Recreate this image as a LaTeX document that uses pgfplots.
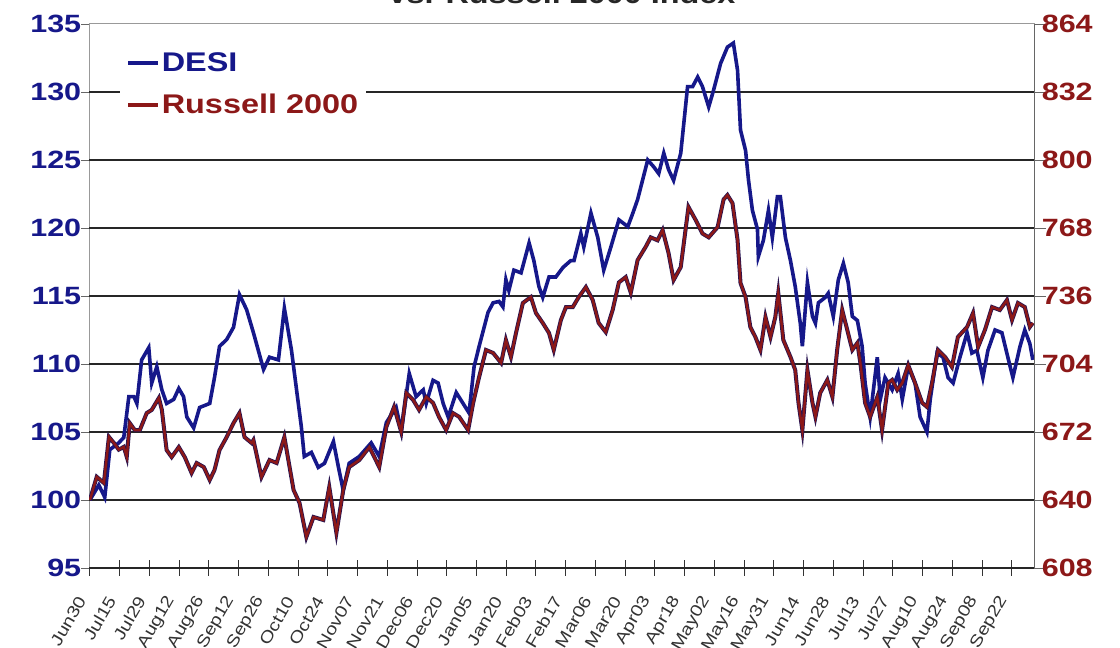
\documentclass[border=0pt]{standalone}
\usepackage{graphicx}
\usepackage{pgfplots}
\pgfplotsset{compat=1.18}
\usepackage{fontspec}
\setmainfont{Liberation Sans}
\definecolor{desi}{RGB}{22,24,138}
\definecolor{russ}{RGB}{140,24,24}
\definecolor{rusedge}{RGB}{40,20,80}

\pgfplotstableread{
d v
0 100.0
3.0 101.1
5.0 100.2
6.7 103.7
9.7 104.2
11.4 104.6
13.1 107.6
14.8 107.6
15.8 107.1
17.4 110.3
19.8 111.2
20.8 108.6
22.5 109.8
24.2 108.1
25.8 107.1
28.2 107.4
29.9 108.2
31.5 107.6
32.6 106.1
34.9 105.3
36.9 106.8
40.3 107.1
41.9 109.0
43.6 111.3
46.0 111.8
48.3 112.7
50.3 115.1
52.7 114.0
55.0 112.3
58.4 109.6
60.4 110.5
63.4 110.3
65.4 114.1
67.8 111.0
69.5 108.1
71.1 105.4
72.1 103.2
74.5 103.5
76.8 102.4
78.9 102.7
81.9 104.3
83.6 102.4
85.2 100.7
87.2 102.7
90.6 103.2
94.6 104.2
97.3 103.2
99.7 105.7
103.0 106.8
104.7 105.1
107.4 109.3
109.7 107.6
112.1 108.1
113.1 107.1
115.4 108.8
117.1 108.6
118.8 107.1
120.5 106.1
123.2 107.9
125.5 107.1
127.5 106.4
129.2 109.8
130.9 111.3
133.9 113.8
135.6 114.5
137.6 114.6
138.9 114.2
139.9 116.2
140.9 115.4
142.6 116.9
145.0 116.7
147.7 118.9
149.3 117.6
151.0 115.7
152.3 114.9
154.4 116.4
156.7 116.4
159.1 117.1
161.7 117.6
162.8 117.6
165.1 119.6
166.1 118.6
168.5 121.1
170.8 119.3
172.8 116.9
175.2 118.6
177.9 120.6
180.9 120.1
182.6 121.1
184.2 122.1
187.6 125.0
189.6 124.5
191.3 124.0
193.0 125.5
194.6 124.3
196.3 123.5
198.7 125.5
201.0 130.4
202.7 130.4
204.4 131.1
206.0 130.4
208.1 128.9
209.7 130.1
212.1 132.1
214.4 133.3
216.4 133.6
217.8 131.6
218.8 127.2
220.5 125.7
221.5 123.5
222.8 121.3
224.5 119.9
224.8 117.9
226.5 119.1
228.2 121.3
229.5 119.3
231.2 122.3
232.2 122.3
233.9 119.3
235.6 117.6
237.2 115.7
238.9 113.0
239.6 111.3
241.3 116.0
243.0 113.5
244.0 113.0
245.0 114.5
247.3 114.9
248.3 115.2
250.0 113.5
251.7 116.2
253.4 117.4
255.0 116.0
256.4 113.5
258.1 113.2
259.7 111.3
260.7 108.6
262.4 106.1
264.8 110.5
265.8 107.4
267.4 109.0
269.8 108.1
271.8 109.3
273.2 107.4
275.2 109.8
277.5 108.6
279.2 106.1
281.5 105.0
282.6 107.4
284.9 110.8
286.9 110.5
288.6 109.0
290.3 108.6
292.6 110.5
295.0 112.3
296.6 110.8
298.3 111.0
300.3 109.0
302.0 111.0
304.4 112.5
306.7 112.3
308.7 110.5
310.4 109.0
312.8 111.3
314.4 112.5
316.1 111.5
317.1 110.3
}\desitable

\pgfplotstableread{
d r
0 640.0
2.3 650.9
4.7 648.0
6.4 669.7
8.1 666.8
9.7 663.7
11.4 665.0
12.4 660.3
13.4 676.2
15.1 672.9
16.8 672.9
19.1 680.9
20.8 682.4
23.2 688.0
24.2 682.4
25.8 663.5
27.5 660.2
29.9 664.9
31.9 660.2
34.2 652.7
35.9 657.4
38.3 655.5
40.3 649.4
41.9 654.1
43.6 663.5
46.0 669.6
48.3 676.2
50.3 680.9
52.0 669.6
54.4 666.8
55.0 668.2
57.7 650.8
60.4 658.8
62.8 657.4
65.4 669.6
68.5 644.7
70.5 638.6
72.8 622.6
75.2 632.0
78.5 630.6
80.5 646.1
82.9 624.5
85.2 644.7
87.2 655.5
90.6 658.8
94.0 664.9
97.3 655.5
99.7 674.4
102.3 683.8
104.7 672.0
106.4 690.4
108.7 687.1
110.7 682.4
113.1 688.5
115.4 685.7
117.4 679.1
119.8 672.9
122.1 680.9
124.2 679.1
127.2 672.9
128.9 685.7
130.9 697.9
133.2 710.6
135.6 709.2
138.3 704.5
139.9 715.3
141.6 707.3
143.3 718.6
145.6 732.7
148.3 735.5
150.0 728.0
152.3 723.3
154.4 718.6
156.0 710.6
158.4 724.7
160.1 730.8
162.4 730.8
164.4 735.5
166.8 740.2
169.1 734.1
171.1 723.3
173.5 719.0
175.8 729.4
177.9 742.4
180.2 744.9
181.9 737.5
184.2 752.9
186.9 759.1
188.6 763.6
190.9 762.2
192.6 767.0
194.6 756.2
196.3 743.5
198.7 749.6
201.3 777.9
203.7 771.8
206.0 765.4
208.1 763.6
211.1 768.4
213.1 781.4
214.4 783.5
216.1 779.7
217.8 762.4
218.8 742.1
220.5 735.5
222.1 721.4
223.8 716.7
225.5 710.6
227.2 726.1
228.9 716.7
230.5 726.1
231.5 737.4
233.2 715.3
235.6 707.3
237.2 701.2
238.3 685.7
239.6 672.9
241.3 701.2
243.0 685.7
244.0 679.1
245.6 690.4
248.0 696.5
249.7 688.5
251.3 710.6
253.0 729.4
254.7 720.0
256.4 710.6
258.1 713.9
259.1 704.5
260.7 685.7
262.4 679.1
264.8 688.5
266.4 672.9
268.5 695.1
269.8 696.5
271.5 691.8
273.2 695.1
275.2 703.5
277.5 695.1
279.9 685.7
281.5 683.8
283.2 695.1
285.2 710.6
287.6 707.3
289.9 702.6
291.9 716.7
295.0 721.4
297.0 728.0
298.7 712.0
301.0 720.0
303.4 730.8
306.0 729.4
308.4 734.1
310.1 724.7
312.1 732.7
314.4 730.8
316.1 721.4
317.1 723.3
}\russtable

\begin{document}
\begin{tikzpicture}[x=1pt,y=1pt]
\pgfplotsset{
  common/.style={
    at={(89pt,80pt)}, anchor=south west,
    scale only axis, width=945pt, height=544pt,
    xmin=-0.3, xmax=317.5,
    /pgf/number format/assume math mode=true,
  }
}
\begin{axis}[
  common,
  ymin=95, ymax=135,
  ytick={95,100,...,135},
  yticklabel={\scalebox{1.22}[1]{\pgfmathprintnumber{\tick}}},
  xtick={0,10,...,310},
  xticklabels={Jun30,Jul15,Jul29,Aug12,Aug26,Sep12,Sep26,Oct10,Oct24,Nov07,Nov21,Dec06,Dec20,Jan05,Jan20,Feb03,Feb17,Mar06,Mar20,Apr03,Apr18,May02,May16,May31,Jun14,Jun28,Jul13,Jul27,Aug10,Aug24,Sep08,Sep22},
  xtick pos=bottom, ytick pos=left,
  xtick align=center, ytick align=outside,
  x tick style={black!80, line width=0.9pt, /pgfplots/major tick length=16pt},
  y tick style={black!60, line width=0.9pt, /pgfplots/major tick length=8pt},
  axis line style={draw=black!40, line width=1pt},
  xticklabel style={yshift=-24pt, xshift=-6pt, rotate=60, xscale=1.2, anchor=east, font=\fontsize{16.5}{16.5}\selectfont, text=black!80},
  yticklabel style={font=\bfseries\fontsize{25}{25}\selectfont, text=desi},
  extra y ticks={95,100,...,130},
  extra y tick labels={},
  extra y tick style={grid=major, /pgfplots/major tick length=0pt},
  major grid style={black!85, line width=1.4pt},
  legend style={at={(0.0328,0.958)}, anchor=north west, fill=white, draw=none,
    font=\bfseries\fontsize{27}{27}\selectfont, inner xsep=6pt, inner ysep=4pt,
    row sep=17pt},
  legend cell align=left,
  legend image code/.code={\draw[#1] (0pt,0pt) -- (30pt,0pt);},
]
\addplot[desi, line width=3.6pt] table[x=d, y=v] {\desitable};
\addlegendentry{\scalebox{1.2}[1]{\textcolor{desi}{DESI}}\hspace{42pt}}
\addlegendimage{russ, line width=3.6pt}
\addlegendentry{\scalebox{1.2}[1]{\textcolor{russ}{Russell 2000}}\hspace{42pt}}
\end{axis}
\begin{axis}[
  common,
  ymin=608, ymax=864,
  ytick={608,640,...,864},
  yticklabel={\scalebox{1.22}[1]{\pgfmathprintnumber{\tick}}},
  axis x line=none,
  axis y line*=right,
  ytick align=outside,
  y tick style={black!60, line width=0.9pt, /pgfplots/major tick length=12pt},
  y axis line style={draw=black!60, line width=1pt},
  yticklabel style={font=\bfseries\fontsize{25}{25}\selectfont, text=russ},
]
\addplot[rusedge, line width=4pt] table[x=d, y=r] {\russtable};
\addplot[russ, line width=2.4pt] table[x=d, y=r] {\russtable};
\end{axis}
\node[anchor=base, font=\bfseries\fontsize{27}{27}\selectfont, text=black!85] at (562,644) {\scalebox{1.2}[1]{vs. Russell 2000 Index}};
\pgfresetboundingbox
\useasboundingbox (0,0) rectangle (1120,648);
\end{tikzpicture}
\end{document}
